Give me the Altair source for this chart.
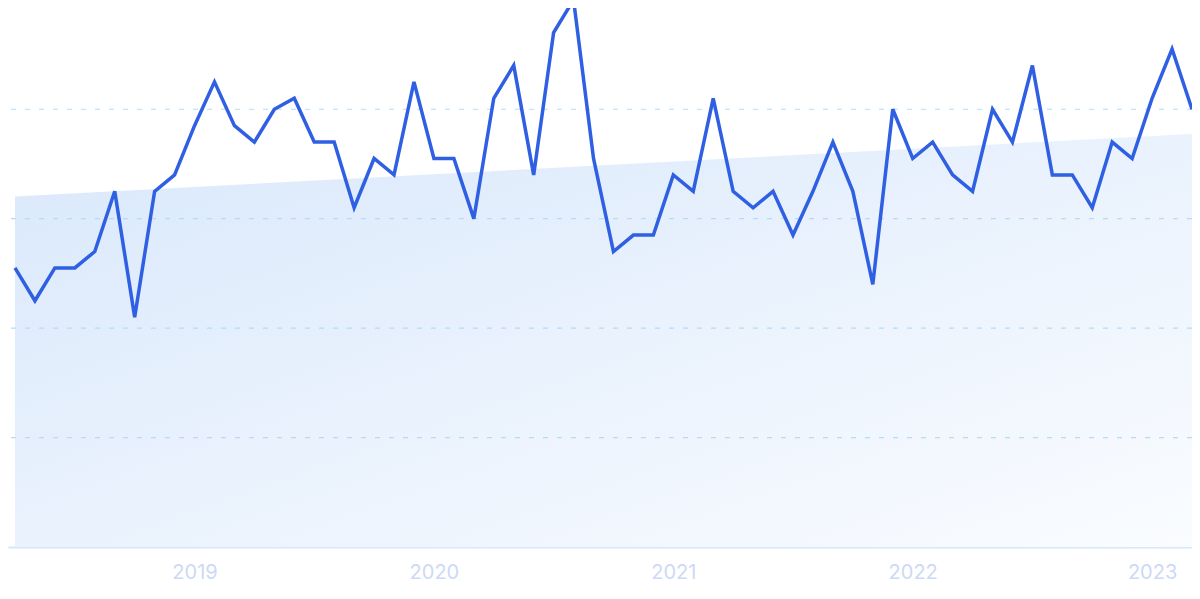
import altair as alt
import pandas as pd

# monthly index 0 = 2018-04 ... 59 = 2023-03
values = [51, 45, 51, 51, 54, 65, 42, 65, 68, 77,
          85, 77, 74, 80, 82, 74, 74, 62, 71, 68,
          85, 71, 71, 60, 82, 88, 68, 94, 100, 71,
          54, 57, 57, 68, 65, 82, 65, 62, 65, 57,
          65, 74, 65, 48, 80, 71, 74, 68, 65, 80,
          74, 88, 68, 68, 62, 74, 71, 82, 91, 80]
month_index = list(range(len(values)))
year_tick_index = [9, 21, 33, 45, 57]
year_labels = ["2019", "2020", "2021", "2022", "2023"]
grid_values = [20, 40, 60, 80, 100]

df = pd.DataFrame({"m": month_index, "value": values})
grid_df = pd.DataFrame({"g": grid_values})

label_expr = "{" + ",".join(f"'{i}':'{y}'" for i, y in zip(year_tick_index, year_labels)) + "}[datum.value]"

x_scale = alt.Scale(domain=[-0.35, 59.0], nice=False, zero=False)
y_scale = alt.Scale(domain=[0, 98.5], nice=False)

x_axis = alt.Axis(values=year_tick_index, labelExpr=label_expr, title=None, grid=False,
                  ticks=False, domainColor="#d6e8fb", domainWidth=2,
                  labelColor="#cdd9f5", labelFontSize=20, labelFont="Inter",
                  labelPadding=15)

base = alt.Chart(df)

trend = base.transform_regression("m", "value", method="linear").mark_area(
    fill=alt.Gradient(
        gradient="linear",
        stops=[alt.GradientStop(color="#d9e8fb", offset=0),
               alt.GradientStop(color="#fafcff", offset=1)],
        x1=0, y1=0, x2=1, y2=1,
    )
).encode(
    x=alt.X("m:Q", scale=x_scale, axis=x_axis),
    y=alt.Y("value:Q", scale=y_scale, axis=None),
    y2=alt.datum(0),
)

grid = alt.Chart(grid_df).mark_rule(
    color="#b4dcf9", strokeDash=[5, 9], strokeWidth=1.2
).encode(y=alt.Y("g:Q", scale=y_scale, axis=None))

line = base.mark_line(color="#2f5fe2", strokeWidth=3.5).encode(
    x=alt.X("m:Q", scale=x_scale),
    y=alt.Y("value:Q", scale=y_scale),
)

chart = alt.layer(trend, grid, line).properties(
    width=1184, height=539,
    padding={"left": 0, "top": 0, "right": 0, "bottom": 44},
    autosize=alt.AutoSizeParams(type="none"),
    background="white",
).configure_view(stroke=None)

chart.save("out.html", embed_options={"renderer": "svg", "actions": False})
